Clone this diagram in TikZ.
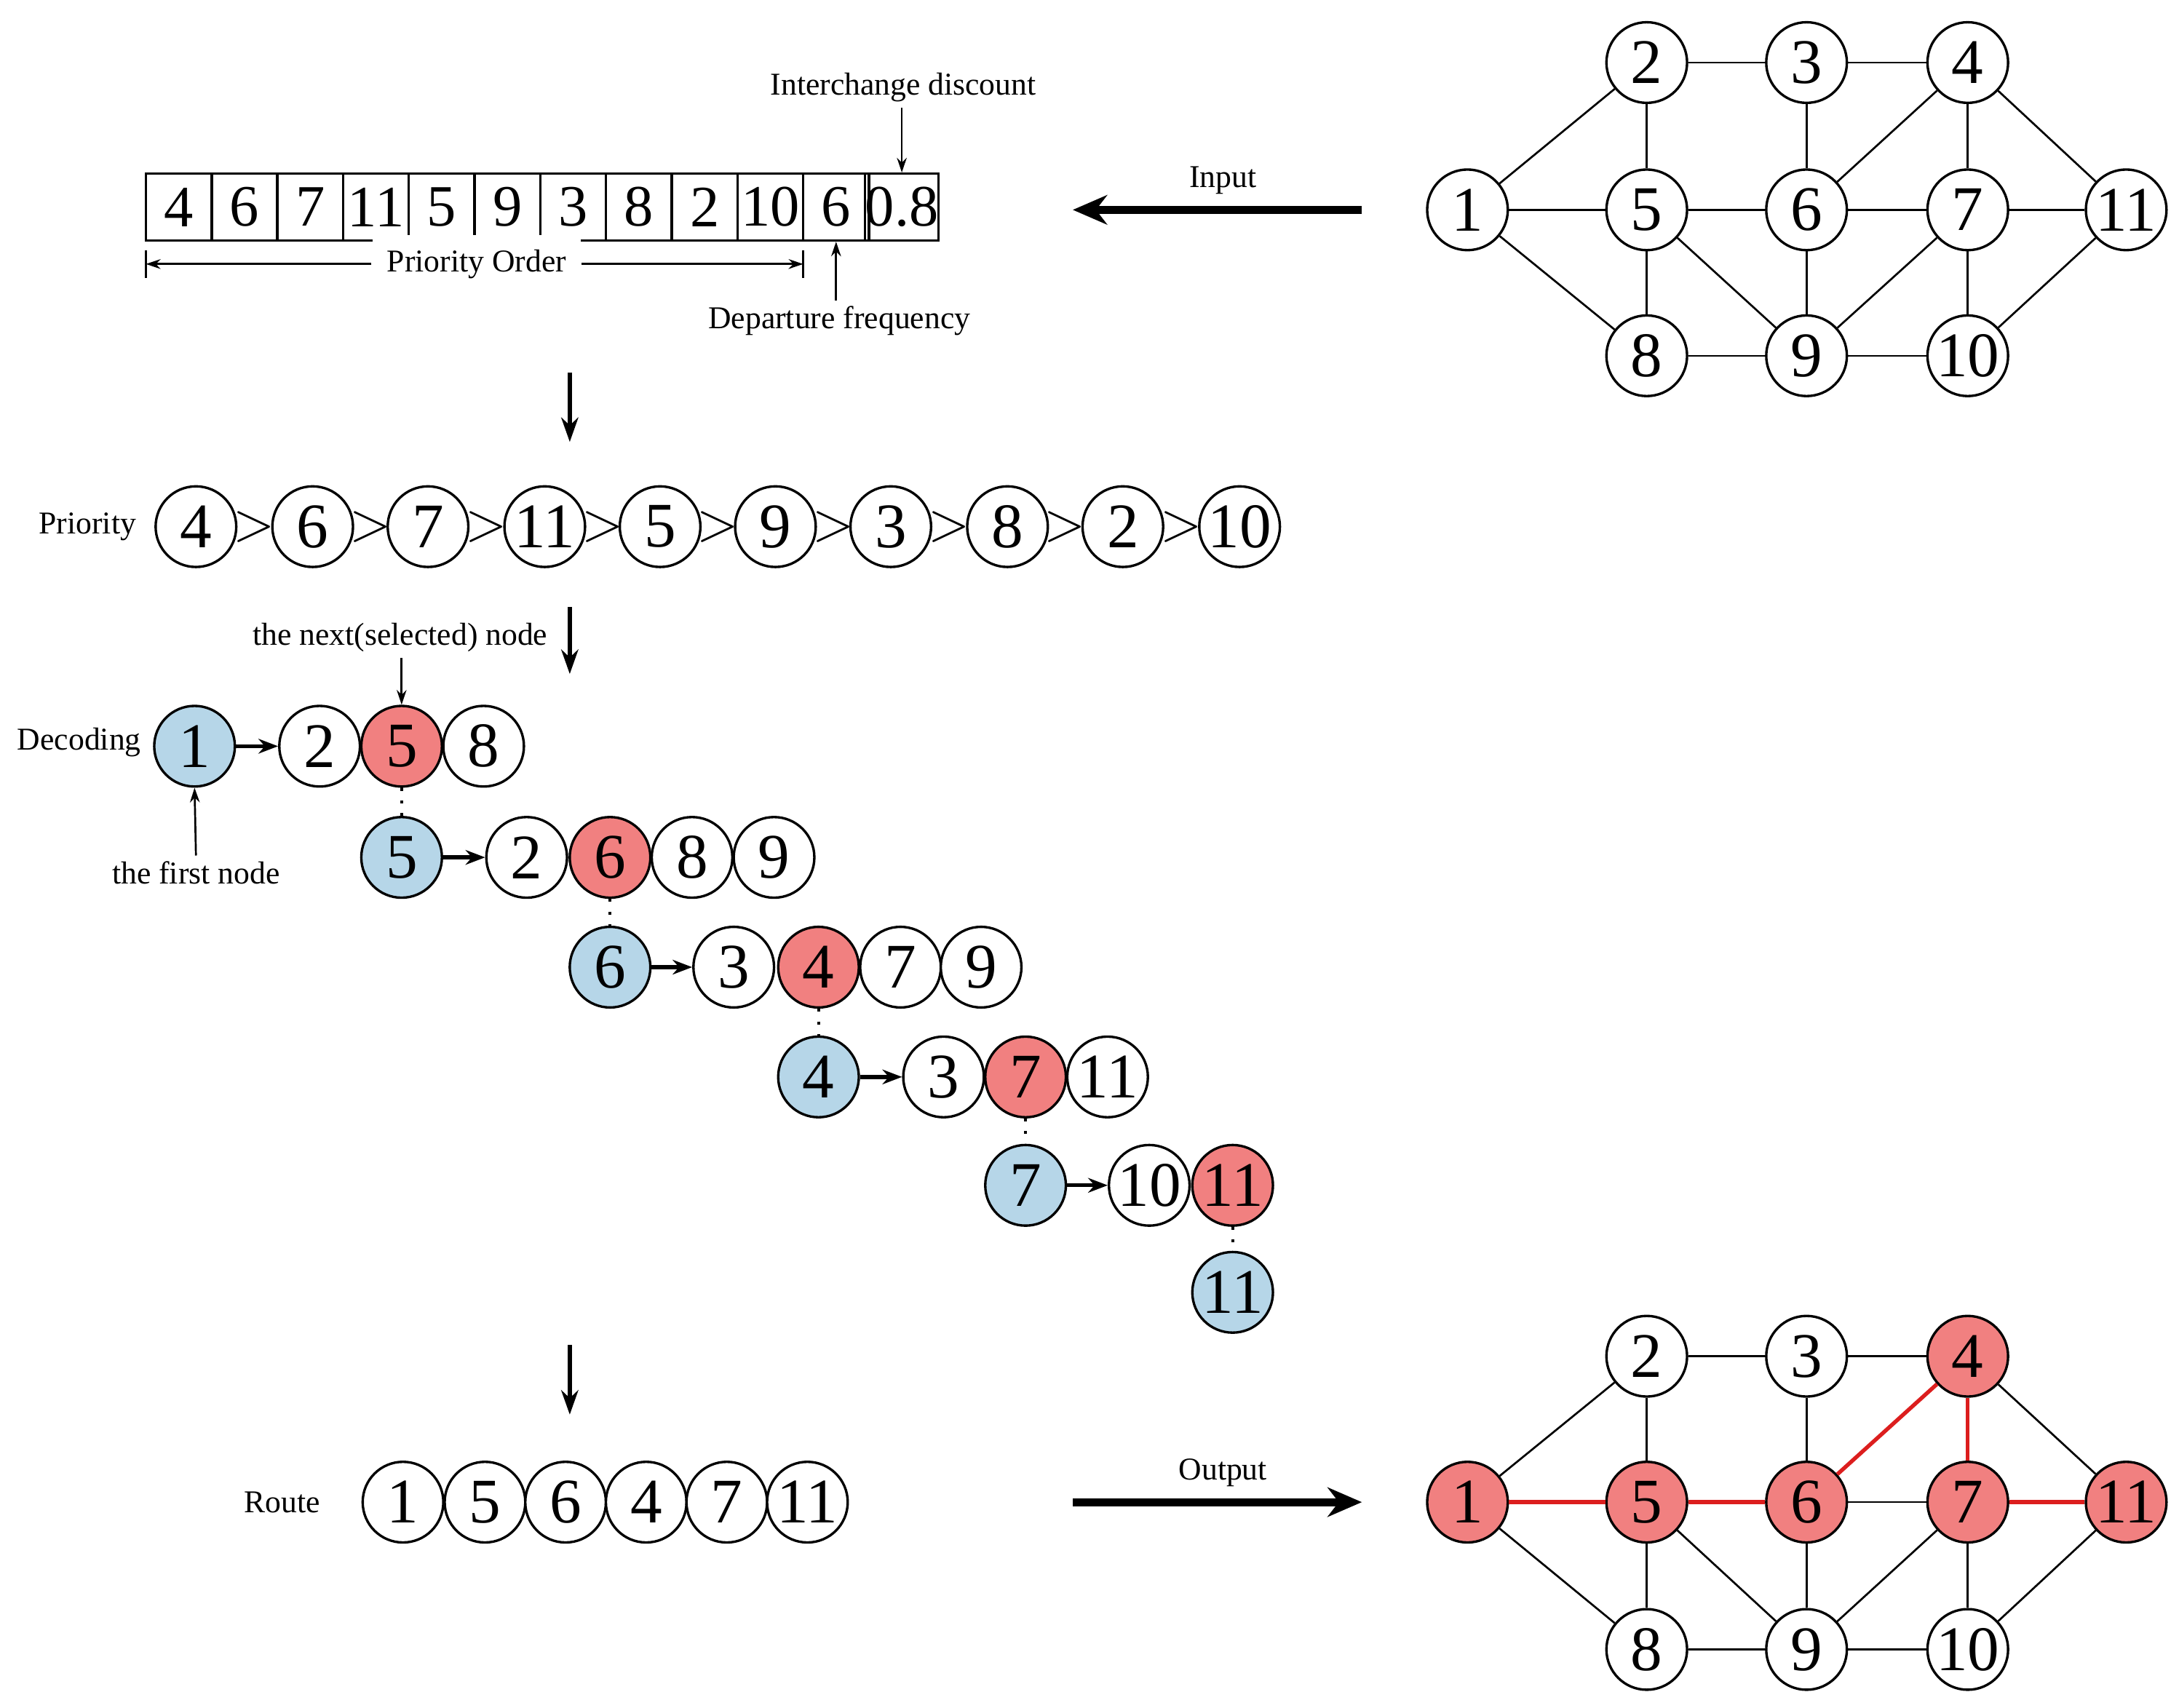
\documentclass[tikz,border=0pt]{standalone}
\usepackage{fontspec}
\setmainfont{Liberation Serif}
\usetikzlibrary{arrows.meta,calc}
\definecolor{nblue}{RGB}{182,214,232}
\definecolor{nred}{RGB}{241,128,128}
\definecolor{ered}{RGB}{220,30,30}
\begin{document}
\begin{tikzpicture}[x=0.01cm,y=-0.01cm,
  nd/.style={circle,draw,line width=0.5pt,minimum size=0.58cm,inner sep=0pt,font=\fontsize{13}{13}\selectfont,fill=white},
  bl/.style={nd,fill=nblue}, rd/.style={nd,fill=nred},
  lab/.style={font=\fontsize{6.5}{7}\selectfont,inner sep=1pt},
  cell/.style={draw,line width=0.5pt,minimum width=0.473cm,minimum height=0.48cm,inner sep=0pt,font=\fontsize{12}{12}\selectfont},
  ge/.style={line width=0.4pt},
  re/.style={line width=0.8pt,ered},
  thin/.style={line width=0.4pt,-{Stealth[length=3pt,width=2pt]}},
  big/.style={line width=1.6pt,-{Stealth[length=7pt,width=6pt]}},
  down/.style={line width=0.8pt,-{Stealth[length=5pt,width=3.5pt]}},
  dot/.style={dotted,line width=0.6pt}]
\useasboundingbox (0,0) rectangle (1568,1229);
% top graph
\foreach \n/\x/\y in {1/1056/151,2/1185/45,3/1300/45,4/1416/45,5/1185/151,6/1300/151,7/1416/151,11/1530/151,8/1185/256,9/1300/256,10/1416/256}
  \node[nd] (g\n) at (\x,\y) {\n};
\foreach \a/\b in {1/2,1/5,1/8,2/3,3/4,2/5,3/6,4/6,4/7,4/11,5/6,6/7,7/11,5/8,5/9,6/9,7/9,7/10,11/10,8/9,9/10}
  \draw[ge] (g\a) -- (g\b);
% bottom graph
\foreach \n/\x/\y/\s in {1/1056/1081/rd,2/1185/976/nd,3/1300/976/nd,4/1416/976/rd,5/1185/1081/rd,6/1300/1081/rd,7/1416/1081/rd,11/1530/1081/rd,8/1185/1187/nd,9/1300/1187/nd,10/1416/1187/nd}
  \node[\s] (h\n) at (\x,\y) {\n};
\foreach \a/\b in {1/2,1/8,2/3,3/4,2/5,3/6,4/11,6/7,5/8,5/9,6/9,7/9,7/10,11/10,8/9,9/10}
  \draw[ge] (h\a) -- (h\b);
\foreach \a/\b in {1/5,5/6,6/4,4/7,7/11}
  \draw[re] (h\a) -- (h\b);
% array
\foreach \v [count=\i] in {4,6,7,11,5,9,3,8,2,10,6,0.8}
  \node[cell] (c\i) at ({105+47.3*(\i-0.5)},149) {\v};
\coordinate (pl) at (105,190); \coordinate (pr) at (578,190);
\draw[line width=0.4pt] (105,180) -- (105,200); \draw[line width=0.4pt] (578,180) -- (578,200);
\node[lab,fill=white,inner sep=3pt] (po) at (343,190) {Priority Order};
\draw[thin] (po) -- (pl); \draw[thin] (po) -- (pr);
\node[lab] (df) at (604,231) {Departure frequency};
\draw[thin] (df.north -| c11.south) -- (c11.south);
\node[lab] (ic) at (650,63) {Interchange discount};
\draw[thin] (ic.south -| c12.north) -- (c12.north);
% input/output
\coordinate (ia) at (980,151); \coordinate (ib) at (772,151);
\draw[big] (ia) -- (ib);
\node[lab] (il) at (880,130) {Input};
\coordinate (oa) at (772,1081); \coordinate (ob) at (980,1081);
\draw[big] (oa) -- (ob);
\node[lab] (ol) at (880,1060) {Output};
% down arrows
\coordinate (d1a) at (410,268); \coordinate (d1b) at (410,318);
\coordinate (d2a) at (410,437); \coordinate (d2b) at (410,485);
\coordinate (d3a) at (410,968); \coordinate (d3b) at (410,1018);
\draw[down] (d1a) -- (d1b); \draw[down] (d2a) -- (d2b); \draw[down] (d3a) -- (d3b);
% priority
\node[lab] (pt) at (63,379) {Priority};
\foreach \v/\x [count=\i] in {4/141,6/225,7/308,11/392,5/475,9/558,3/641,8/725,2/808,10/892}
  \node[nd] (p\i) at (\x,379) {\v};
\foreach \i [evaluate=\i as \j using int(\i+1)] in {1,...,9}
  \node[font=\fontsize{11}{11}\selectfont,inner sep=0pt] at ($(p\i)!0.5!(p\j)$) {$>$};
% decoding
\node[lab] (dec) at (57,534) {Decoding};
\node[bl] (a1) at (140,537) {1}; \node[nd] (a2) at (230,537) {2}; \node[rd] (a3) at (289,537) {5}; \node[nd] (a4) at (348,537) {8};
\node[bl] (b1) at (289,617) {5}; \node[nd] (b2) at (379,617) {2}; \node[rd] (b3) at (439,617) {6}; \node[nd] (b4) at (498,617) {8}; \node[nd] (b5) at (557,617) {9};
\node[bl] (e1) at (439,696) {6}; \node[nd] (e2) at (528,696) {3}; \node[rd] (e3) at (589,696) {4}; \node[nd] (e4) at (648,696) {7}; \node[nd] (e5) at (706,696) {9};
\node[bl] (f1) at (589,775) {4}; \node[nd] (f2) at (679,775) {3}; \node[rd] (f3) at (738,775) {7}; \node[nd] (f4) at (797,775) {11};
\node[bl] (k1) at (738,853) {7}; \node[nd] (k2) at (827,853) {10}; \node[rd] (k3) at (887,853) {11};
\node[bl] (m1) at (887,930) {11};
\foreach \r in {a,b,e,f,k} \draw[line width=0.8pt,-{Stealth[length=4pt,width=3pt]}] (\r1) -- (\r2);
\draw[dot] (a3) -- (b1); \draw[dot] (b3) -- (e1); \draw[dot] (e3) -- (f1); \draw[dot] (f3) -- (k1); \draw[dot] (k3) -- (m1);
\node[lab] (ns) at (288,459) {the next(selected) node};
\draw[thin] (ns.south -| a3.north) -- (a3.north);
\node[lab] (fn) at (141,628) {the first node};
\draw[thin] (fn.north) -- (a1.south);
% route
\node[lab] (rt) at (203,1081) {Route};
\foreach \v/\x [count=\i] in {1/290,5/349,6/407,4/465,7/523,11/581}
  \node[nd] (r\i) at (\x,1081) {\v};
\end{tikzpicture}
\end{document}
